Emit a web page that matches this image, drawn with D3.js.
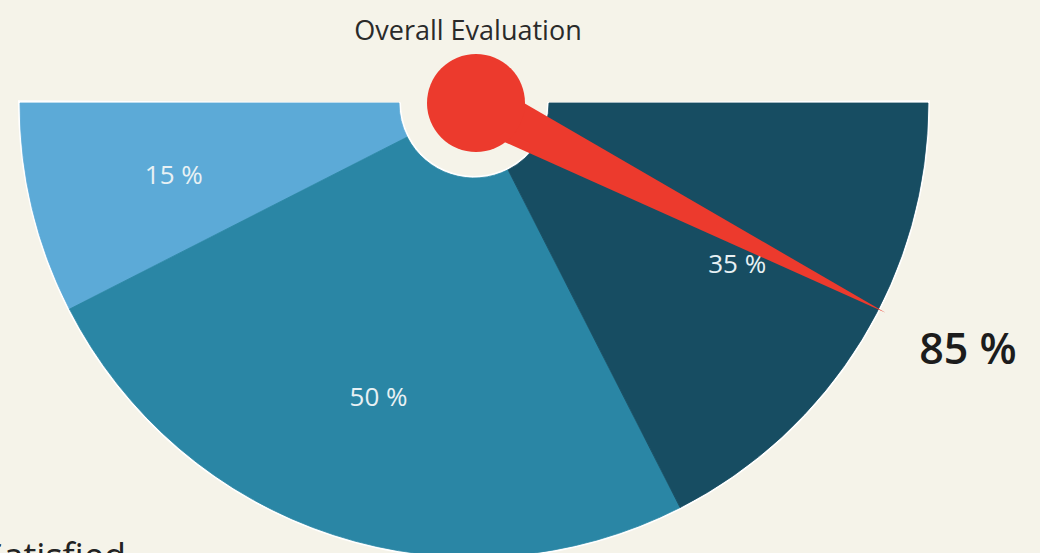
<!DOCTYPE html>
<html>
<head>
<meta charset="utf-8">
<script src="https://d3js.org/d3.v7.min.js"></script>
<style>
  html, body { margin: 0; padding: 0; background: #f5f3e9; }
  svg { display: block; font-family: "Open Sans", sans-serif; }
</style>
</head>
<body>
<svg></svg>
<script>
// gauge data
var segmentNames = ['low', 'mid', 'high'];
var segmentValues = [15, 50, 35];
var segmentLabels = ['15 %', '50 %', '35 %'];
var segmentColors = ['#5caad7', '#2a86a5', '#174d62'];
var needleValue = 85;
var needleLabel = '85 %';
var title = 'Overall Evaluation';
var sideLabel = 'Satisfied';

var width = 1040;
var height = 553;
var cx = 474;
var cy = 103;
var outerR = 454;
var innerR = 75;

var svg = d3.select('svg')
    .attr('width', width)
    .attr('height', height);

// 0 % at the left, through the bottom, 100 % at the right
var angle = d3.scaleLinear()
    .domain([0, 100])
    .range([1.5 * Math.PI, 0.5 * Math.PI]);

var stacked = [];
var acc = 0;
segmentValues.forEach(function(v, i) {
  stacked.push({name: segmentNames[i], label: segmentLabels[i], color: segmentColors[i], start: acc, end: acc + v});
  acc += v;
});

var g = svg.append('g')
    .attr('transform', 'translate(' + cx + ',' + cy + ')');

// thin white rim
g.append('path')
    .attr('d', d3.arc()
      .innerRadius(innerR - 2)
      .outerRadius(outerR + 2)
      .startAngle(angle(0) + 0.006)
      .endAngle(angle(100) - 0.006)())
    .attr('fill', '#ffffff');

var arc = d3.arc()
    .innerRadius(innerR)
    .outerRadius(outerR);

g.selectAll('path.seg')
  .data(stacked)
  .enter()
  .append('path')
    .attr('class', 'seg')
    .attr('d', d => arc({startAngle: angle(d.start), endAngle: angle(d.end)}))
    .attr('fill', d => d.color)
    .attr('stroke', d => d.color)
    .attr('stroke-width', 0.8);

var labelR = outerR * 0.68;
g.selectAll('text.seg-label')
  .data(stacked)
  .enter()
  .append('text')
    .attr('class', 'seg-label')
    .attr('x', d => labelR * Math.sin(angle((d.start + d.end) / 2)))
    .attr('y', d => -labelR * Math.cos(angle((d.start + d.end) / 2)))
    .attr('dy', '0.35em')
    .style('text-anchor', 'middle')
    .style('font-size', '26px')
    .style('fill', '#e8f1f4')
    .text(d => d.label);

// needle
var a = angle(needleValue);
var tipR = outerR + 8;
var baseW = 24;
var tip = [tipR * Math.sin(a), -tipR * Math.cos(a)];
var nx = Math.cos(a), ny = Math.sin(a);
var hub = [2, 0];

g.append('path')
    .attr('d', d3.line()([
      [hub[0] + baseW * nx, hub[1] + baseW * ny],
      tip,
      [hub[0] - baseW * nx, hub[1] - baseW * ny]
    ]) + 'Z')
    .attr('fill', '#ec3a2d');

g.append('circle')
    .attr('cx', hub[0])
    .attr('cy', hub[1])
    .attr('r', 49)
    .attr('fill', '#ec3a2d');

svg.append('text')
    .attr('x', 468)
    .attr('y', 40)
    .style('text-anchor', 'middle')
    .style('font-size', '27px')
    .style('fill', '#2a2a2a')
    .text(title);

svg.append('text')
    .attr('x', 968)
    .attr('y', 364)
    .style('text-anchor', 'middle')
    .style('font-size', '43px')
    .style('font-weight', 600)
    .style('fill', '#1c1c1c')
    .text(needleLabel);

svg.append('text')
    .attr('x', 126)
    .attr('y', 569)
    .style('text-anchor', 'end')
    .style('font-size', '36px')
    .style('fill', '#222')
    .text(sideLabel);
</script>
</body>
</html>
